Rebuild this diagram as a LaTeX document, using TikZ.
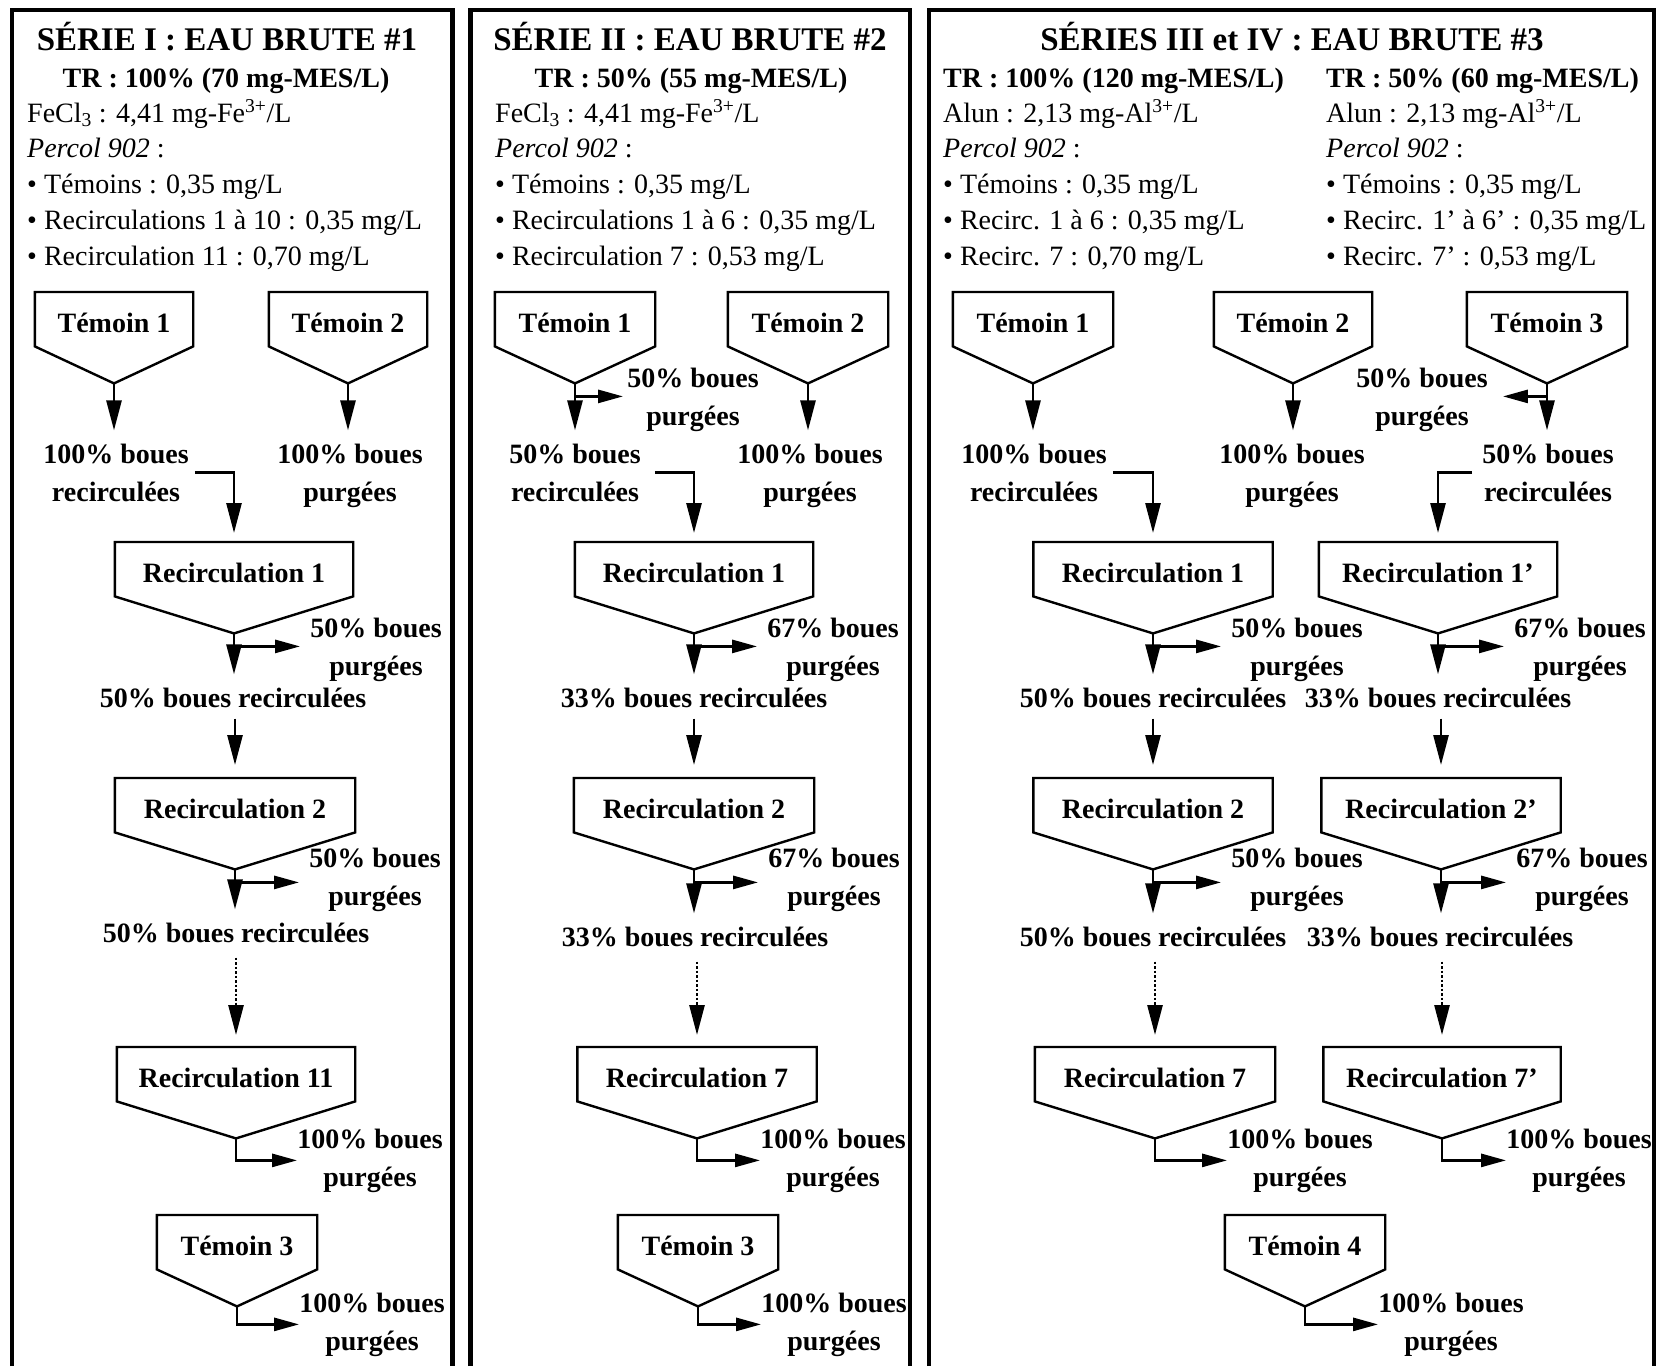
\documentclass[tikz,border=0pt]{standalone}
\usepackage{fontspec}
\setmainfont{Liberation Serif}
\usepackage{tikz}
\usetikzlibrary{arrows.meta,calc}

% decanteur : nom, x centre, y haut, largeur, texte
\newcommand{\decanteur}[5]{%
  \node[bac, minimum width=#4] (#1) at (#2,#3) {#5};
  \draw[contour] (#1.south west) -- (#1.north west) -- (#1.north east)
    -- (#1.south east) -- ($(#1.south)+(0,37)$) coordinate (#1-p) -- cycle;
  \coordinate (#1-b) at ($(#1-p)+(0,13)$);
}

\begin{document}
\begin{tikzpicture}[x=1pt, y=-1pt,
    cadre/.style={line width=4.5pt},
    contour/.style={line width=2.4pt, line join=miter},
    bac/.style={anchor=north, inner sep=0pt, minimum height=54pt, text height=27pt, text depth=0pt,
      font=\fontsize{28}{34}\selectfont\bfseries},
    titre/.style={anchor=base, inner sep=0pt, font=\fontsize{33}{40}\selectfont\bfseries},
    trligne/.style={inner sep=0pt, font=\fontsize{28}{34}\selectfont\bfseries},
    bloc/.style={anchor=base west, yshift=-143.2pt, inner sep=0pt, align=left,
      font=\fontsize{28}{35.8}\selectfont},
    etiq/.style={anchor=base, inner sep=0pt, align=center, font=\fontsize{28}{38}\selectfont\bfseries},
    etiqd/.style={etiq, yshift=-38pt},
    fleche/.style={line width=2.7pt, -{Triangle[length=30pt,width=15pt]}},
    flechec/.style={line width=2.7pt, line join=miter, -{Triangle[length=25pt,width=13pt]}},
    pointille/.style={fleche, dash pattern=on 2.5pt off 2pt}]

  \useasboundingbox (0,0) rectangle (1657,1366);

  % draw frames
  \foreach \xa/\xb in {12/452.5, 470.5/910, 929/1654}
    \draw[cadre] (\xa,1366) |- (\xb,10) -- (\xb,1366);

  % headers
  \node[titre] (titA) at (227,50) {SÉRIE I : EAU BRUTE \#1};
  \node[titre] (titB) at (690,50) {SÉRIE II : EAU BRUTE \#2};
  \node[titre] (titC) at (1292,50) {SÉRIES III et IV : EAU BRUTE \#3};
  \node[trligne, anchor=base] (trA) at (226,87) {TR : 100\% (70 mg-MES/L)};
  \node[trligne, anchor=base] (trB) at (691,87) {TR : 50\% (55 mg-MES/L)};
  \node[trligne, anchor=base west] (trC) at (943,87) {TR : 100\% (120 mg-MES/L)};
  \node[trligne, anchor=base west] (trD) at (1326,87) {TR : 50\% (60 mg-MES/L)};

  \node[bloc] (doseA) at (27,122) {FeCl\textsubscript{3} : 4,41 mg-Fe\textsuperscript{3+}/L\\
    \textit{Percol 902} :\\
    \textbullet\ Témoins : 0,35 mg/L\\
    \textbullet\ Recirculations 1 à 10 : 0,35 mg/L\\
    \textbullet\ Recirculation 11 : 0,70 mg/L};
  \node[bloc] (doseB) at (495,122) {FeCl\textsubscript{3} : 4,41 mg-Fe\textsuperscript{3+}/L\\
    \textit{Percol 902} :\\
    \textbullet\ Témoins : 0,35 mg/L\\
    \textbullet\ Recirculations 1 à 6 : 0,35 mg/L\\
    \textbullet\ Recirculation 7 : 0,53 mg/L};
  \node[bloc] (doseC) at (943,122) {Alun : 2,13 mg-Al\textsuperscript{3+}/L\\
    \textit{Percol 902} :\\
    \textbullet\ Témoins : 0,35 mg/L\\
    \textbullet\ Recirc. 1 à 6 : 0,35 mg/L\\
    \textbullet\ Recirc. 7 : 0,70 mg/L};
  \node[bloc] (doseD) at (1326,122) {Alun : 2,13 mg-Al\textsuperscript{3+}/L\\
    \textit{Percol 902} :\\
    \textbullet\ Témoins : 0,35 mg/L\\
    \textbullet\ Recirc. 1' à 6' : 0,35 mg/L\\
    \textbullet\ Recirc. 7' : 0,53 mg/L};

  % serie I
  \decanteur{temA1}{114}{292}{158}{Témoin 1}
  \decanteur{temA2}{348}{292}{158}{Témoin 2}
  \decanteur{recA1}{234}{542}{238}{Recirculation 1}
  \decanteur{recA2}{235}{778}{240}{Recirculation 2}
  \decanteur{recA11}{236}{1047}{238}{Recirculation 11}
  \decanteur{temA3}{237}{1215}{160}{Témoin 3}

  \node[etiqd] (labA1) at (116,463) {100\% boues\\recirculées};
  \node[etiqd] (labA2) at (350,463) {100\% boues\\purgées};
  \node[etiqd] (purA1) at (376,637) {50\% boues\\purgées};
  \node[etiq] (sorA1) at (233,707) {50\% boues recirculées};
  \node[etiqd] (purA2) at (375,867) {50\% boues\\purgées};
  \node[etiq] (sorA2) at (236,942) {50\% boues recirculées};
  \node[etiqd] (purA11) at (370,1148) {100\% boues\\purgées};
  \node[etiqd] (purA3) at (372,1312) {100\% boues\\purgées};

  % serie II
  \decanteur{temB1}{575}{292}{160}{Témoin 1}
  \decanteur{temB2}{808}{292}{160}{Témoin 2}
  \decanteur{recB1}{694}{542}{238}{Recirculation 1}
  \decanteur{recB2}{694}{778}{240}{Recirculation 2}
  \decanteur{recB7}{697}{1047}{239}{Recirculation 7}
  \decanteur{temB3}{698}{1215}{160}{Témoin 3}

  \node[etiqd] (purB0) at (693,387) {50\% boues\\purgées};
  \node[etiqd] (labB1) at (575,463) {50\% boues\\recirculées};
  \node[etiqd] (labB2) at (810,463) {100\% boues\\purgées};
  \node[etiqd] (purB1) at (833,637) {67\% boues\\purgées};
  \node[etiq] (sorB1) at (694,707) {33\% boues recirculées};
  \node[etiqd] (purB2) at (834,867) {67\% boues\\purgées};
  \node[etiq] (sorB2) at (695,946) {33\% boues recirculées};
  \node[etiqd] (purB7) at (833,1148) {100\% boues\\purgées};
  \node[etiqd] (purB3) at (834,1312) {100\% boues\\purgées};

  % series III et IV
  \decanteur{temC1}{1033}{292}{160}{Témoin 1}
  \decanteur{temC2}{1293}{292}{158}{Témoin 2}
  \decanteur{temC3}{1547}{292}{160}{Témoin 3}
  \decanteur{recC1}{1153}{542}{239}{Recirculation 1}
  \decanteur{recD1}{1438}{542}{238}{Recirculation 1'}
  \decanteur{recC2}{1153}{778}{239}{Recirculation 2}
  \decanteur{recD2}{1441}{778}{239}{Recirculation 2'}
  \decanteur{recC7}{1155}{1047}{240}{Recirculation 7}
  \decanteur{recD7}{1442}{1047}{237}{Recirculation 7'}
  \decanteur{temC4}{1305}{1215}{160}{Témoin 4}

  \node[etiqd] (purC0) at (1422,387) {50\% boues\\purgées};
  \node[etiqd] (labC1) at (1034,463) {100\% boues\\recirculées};
  \node[etiqd] (labC2) at (1292,463) {100\% boues\\purgées};
  \node[etiqd] (labC3) at (1548,463) {50\% boues\\recirculées};
  \node[etiqd] (purC1) at (1297,637) {50\% boues\\purgées};
  \node[etiqd] (purD1) at (1580,637) {67\% boues\\purgées};
  \node[etiq] (sorC1) at (1153,707) {50\% boues recirculées};
  \node[etiq] (sorD1) at (1438,707) {33\% boues recirculées};
  \node[etiqd] (purC2) at (1297,867) {50\% boues\\purgées};
  \node[etiqd] (purD2) at (1582,867) {67\% boues\\purgées};
  \node[etiq] (sorC2) at (1153,946) {50\% boues recirculées};
  \node[etiq] (sorD2) at (1440,946) {33\% boues recirculées};
  \node[etiqd] (purC7) at (1300,1148) {100\% boues\\purgées};
  \node[etiqd] (purD7) at (1579,1148) {100\% boues\\purgées};
  \node[etiqd] (purC4) at (1451,1312) {100\% boues\\purgées};

  % draw arrows out of the settlers
  \foreach \b/\l in {temA1/labA1, temA2/labA2, recA1/sorA1, recA2/sorA2,
      temB1/labB1, temB2/labB2, recB1/sorB1, recB2/sorB2,
      temC1/labC1, temC2/labC2, temC3/labC3, recC1/sorC1, recD1/sorD1, recC2/sorC2, recD2/sorD2}
    \draw[fleche, shorten >=13pt] (\b-p) -- (\b-p |- \l.north);

  % draw purge branches
  \foreach \b/\l in {recA1/purA1, recA2/purA2, recB1/purB1, recB2/purB2,
      recC1/purC1, recD1/purD1, recC2/purC2, recD2/purD2}
    \draw[flechec, shorten >=10pt] (\b-b) -- (\b-b -| \l.west);
  \draw[flechec, shorten >=4pt] (temB1-b) -- (temB1-b -| purB0.west);
  \draw[flechec, shorten >=15pt] (temC3-b) -- (temC3-b -| purC0.east);

  % draw last purges
  \foreach \b/\l in {recA11/purA11, temA3/purA3, recB7/purB7, temB3/purB3,
      recC7/purC7, recD7/purD7, temC4/purC4}
    \draw[flechec] (\b-p) |- (\l.west);

  % draw recirculations
  \draw[fleche, line join=miter, shorten >=9pt] ([xshift=6pt]labA1.east) -| (recA1.north);
  \draw[fleche, line join=miter, shorten >=9pt] ([xshift=14pt]labB1.east) -| (recB1.north);
  \draw[fleche, line join=miter, shorten >=9pt] ([xshift=6pt]labC1.east) -| (recC1.north);
  \draw[fleche, line join=miter, shorten >=9pt] ([xshift=-10pt]labC3.west) -| (recD1.north);
  \foreach \l/\b in {sorA1/recA2, sorB1/recB2, sorC1/recC2, sorD1/recD2}
    \draw[fleche, shorten <=11pt, shorten >=13pt] (\b.north |- \l.south) -- (\b.north);
  \foreach \l/\b in {sorA2/recA11, sorB2/recB7, sorC2/recC7, sorD2/recD7}
    \draw[pointille, shorten <=15pt, shorten >=12pt] (\b.north |- \l.south) -- (\b.north);
\end{tikzpicture}
\end{document}
